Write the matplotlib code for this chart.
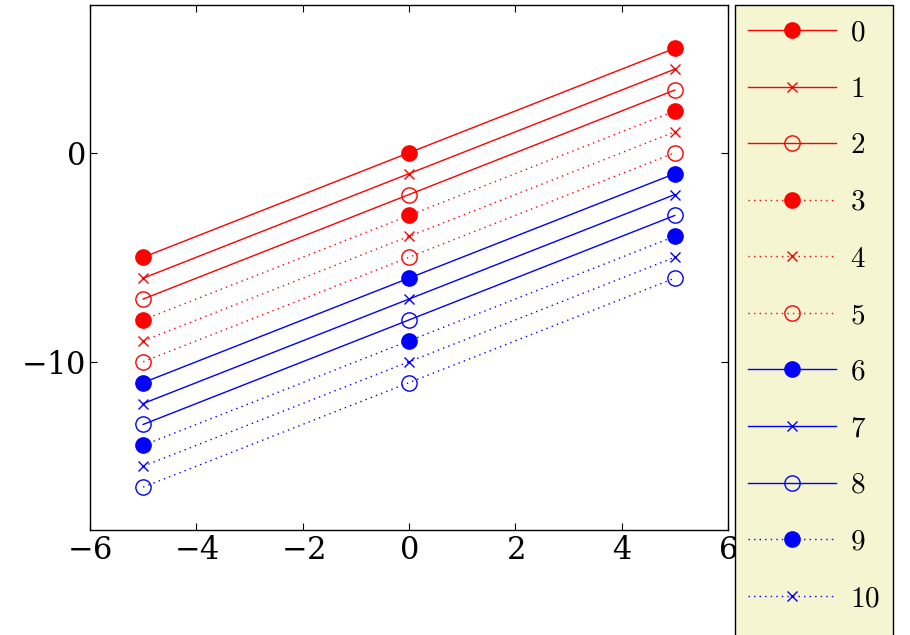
import matplotlib
matplotlib.use("Agg")
import matplotlib.pyplot as plt

plt.rcParams['mathtext.fontset'] = 'cm'
plt.rcParams['axes.formatter.use_mathtext'] = True
plt.rcParams['font.family'] = 'serif'
plt.rcParams['font.serif'] = ['DejaVu Serif']

x = [-5, 0, 5]
series = [
    [-5, 0, 5], [-6, -1, 4], [-7, -2, 3], [-8, -3, 2],
    [-9, -4, 1], [-10, -5, 0], [-11, -6, -1], [-12, -7, -2],
    [-13, -8, -3], [-14, -9, -4], [-15, -10, -5], [-16, -11, -6],
]
labels = [str(i) for i in range(12)]
colors = ['red'] * 6 + ['blue'] * 6
styles = ['-', '-', '-', ':', ':', ':'] * 2
markers = ['o', 'x', 'o'] * 4
fills = ['full', 'none', 'none'] * 4

fig = plt.figure(figsize=(9.1, 6.35), dpi=100)
ax = fig.add_axes([0.0989, 0.1654, 0.701, 0.827])
for ys, lab, c, ls, m, f in zip(series, labels, colors, styles, markers, fills):
    kw = dict(markersize=11 if m == 'o' else 7, markeredgewidth=1.0)
    if f == 'none' and m == 'o':
        kw['markerfacecolor'] = 'none'
    lstyle = '-' if ls == '-' else (0, (1, 3))
    ax.plot(x, ys, color=c, linestyle=lstyle, marker=m, linewidth=1.0,
            label='$%s$' % lab, **kw)
ax.set_xlim(-6, 6)
ax.set_ylim(-18.05, 7.08)
ax.set_xticks([-6, -4, -2, 0, 2, 4, 6])
ax.set_yticks([-10, 0])
ax.tick_params(labelsize=22, direction='in', top=True, right=True, length=5)
for sp in ax.spines.values():
    sp.set_linewidth(1.0)
leg = ax.legend(loc='upper left', bbox_to_anchor=(0.8077, 0.992),
                bbox_transform=fig.transFigure, fontsize=21, frameon=True,
                fancybox=False, edgecolor='black', facecolor='#f5f5d2',
                framealpha=1, handlelength=3.0, labelspacing=0.98,
                borderpad=0.45, handletextpad=0.5, borderaxespad=0)
leg.get_frame().set_linewidth(1.0)
fig.savefig('out.png', dpi=100)
